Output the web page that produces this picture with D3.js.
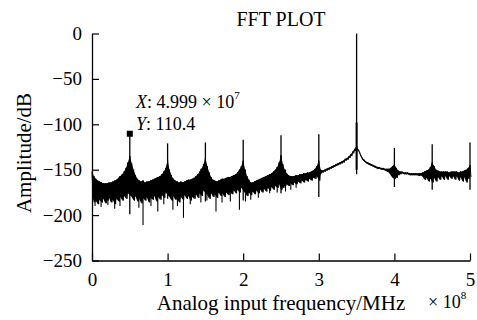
<!DOCTYPE html>
<html>
<head>
<meta charset="utf-8">
<script src="https://cdn.jsdelivr.net/npm/d3@7"></script>
<style>
  body { margin: 0; background: #fff; }
  svg text { font-family: "Liberation Serif", "Times New Roman", serif; fill: #000; }
</style>
</head>
<body>
<div id="chart"></div>
<script>
// frequency grid (x 10^8 Hz), step 0.025
const step = 0.025;

// upper envelope of the spectrum trace (dB)
const upperDb = [
  -152, -157, -160, -162, -163, -164, -165, -165, -165, -164, -164, -163, -162, -161, -159, -157, -155, -152, -148, -142,
  -135, -143, -150, -156, -160, -162, -163, -162, -164, -163, -163, -162, -161, -160, -159, -158, -157, -155, -152, -148,
  -140, -150, -156, -160, -162, -163, -164, -163, -164, -163, -162, -161, -161, -160, -159, -157, -155, -152, -149, -144,
  -137, -146, -153, -158, -161, -162, -163, -162, -161, -160, -160, -159, -158, -158, -157, -156, -155, -153, -150, -146,
  -140, -150, -157, -161, -164, -164, -163, -162, -161, -160, -159, -158, -157, -156, -155, -154, -152, -150, -147, -142,
  -134, -144, -150, -154, -156, -157, -157, -157, -156, -156, -155, -155, -154, -154, -153, -153, -152, -151, -149, -146,
  -140, -150, -151, -150, -149, -148, -147, -146, -145, -144, -143, -142, -141, -140, -138, -137, -135, -133, -130, -127,
  -124, -128, -133, -137, -139, -141, -142, -143, -144, -145, -146, -147, -147, -148, -148, -149, -149, -149, -148, -146,
  -144, -148, -151, -152, -152, -153, -153, -153, -154, -154, -154, -154, -154, -154, -154, -153, -152, -151, -150, -147,
  -142, -146, -150, -151, -152, -152, -152, -152, -152, -153, -152, -152, -152, -152, -153, -152, -152, -151, -150, -148,
  -145
];

// lower envelope of the trace (dB)
const lowerDb = [
  -178, -186, -184, -188, -183, -186, -182, -187, -184, -181, -186, -183, -188, -182, -185, -180, -184, -179, -182, -176,
  -178, -180, -184, -179, -185, -182, -187, -181, -184, -180, -186, -181, -183, -179, -185, -180, -183, -178, -181, -175,
  -178, -180, -184, -179, -183, -181, -186, -180, -183, -178, -182, -179, -184, -180, -182, -177, -181, -176, -179, -173,
  -176, -178, -182, -176, -180, -177, -181, -175, -179, -176, -180, -175, -178, -174, -177, -173, -176, -172, -175, -170,
  -173, -176, -179, -175, -178, -174, -177, -173, -176, -172, -175, -171, -174, -170, -173, -169, -172, -168, -170, -166,
  -172, -170, -168, -166, -168, -165, -167, -164, -166, -163, -165, -162, -164, -161, -163, -160, -162, -159, -160, -157,
  -162, -154, -153, -152, -151, -150, -149, -148, -147, -146, -145, -144, -143, -142, -140, -139, -137, -135, -132, -129,
  -128, -130, -135, -139, -141, -143, -144, -145, -146, -147, -148, -149, -149, -150, -150, -151, -152, -153, -156, -159,
  -160, -159, -156, -155, -154, -155, -155, -155, -156, -156, -156, -156, -156, -157, -156, -158, -161, -159, -163, -160,
  -164, -159, -163, -158, -161, -157, -161, -157, -161, -157, -160, -157, -161, -157, -162, -158, -163, -158, -164, -160,
  -158
];

// harmonic spurs: frequency, top and bottom of the spike (dB)
const spurFreq   = [0.5, 1.0, 1.5, 2.0, 2.5, 3.0, 3.5, 4.0, 4.5, 5.0];
const spurTop    = [-110.4, -121, -120, -117, -112, -111, 0, -126, -122, -120];
const spurBottom = [-199, -182, -185, -184, -176, -180, -155, -169, -172, -172];

// deep noise dips below the band
const dipFreq = [0.04, 0.12, 0.21, 0.3, 0.37, 0.62, 0.675, 0.78, 0.87, 0.95, 1.07, 1.13, 1.21, 1.3, 1.44,
  1.52, 1.64, 1.72, 1.83, 1.95, 2.03, 2.1, 2.2, 2.35, 2.45, 2.56, 2.63, 2.7];
const dipDb = [-190, -191, -189, -193, -190, -192, -211, -190, -196, -188, -194, -190, -203, -188, -186,
  -184, -196, -186, -185, -194, -185, -183, -181, -176, -175, -174, -172, -170];

const xTicks = [0, 1, 2, 3, 4, 5];
const yTicks = [0, -50, -100, -150, -200, -250];

// marker (data cursor)
const markerFreq = 0.5, markerDb = -110.4;

const width = 477, height = 320;

const svg = d3.select("#chart").append("svg")
  .attr("width", width)
  .attr("height", height);

const x = d3.scaleLinear().domain([0, 5]).range([92, 470]);
const y = d3.scaleLinear().domain([-250, 0]).range([260.5, 33.5]);

// build the zigzag trace
const trace = [];
upperDb.forEach((u, i) => {
  trace.push([i * step, u]);
  trace.push([i * step + step / 2, lowerDb[i]]);
});

const band = d3.area()
  .x((d, i) => x(i * step))
  .y0((d, i) => y(lowerDb[i]))
  .y1(d => y(d));

svg.append("path")
  .datum(upperDb)
  .attr("d", band)
  .attr("fill", "#000");

const line = d3.line().x(d => x(d[0])).y(d => y(d[1]));

svg.append("path")
  .datum(trace)
  .attr("d", line)
  .attr("fill", "none")
  .attr("stroke", "#000")
  .attr("stroke-width", 1);

// dips
dipFreq.forEach((f, i) => {
  const k = Math.round(f / step);
  svg.append("path")
    .datum([[f, upperDb[k]], [f, dipDb[i]]])
    .attr("d", line)
    .attr("stroke", "#000")
    .attr("stroke-width", 1.1);
});

// spurs
spurFreq.forEach((f, i) => {
  svg.append("path")
    .datum([[f, spurBottom[i]], [f, spurTop[i]]])
    .attr("d", line)
    .attr("stroke", "#000")
    .attr("stroke-width", 1.3);
});
// thicker lower part of the fundamental
svg.append("path")
  .datum([[3.5, -150], [3.5, -98]])
  .attr("d", line)
  .attr("stroke", "#000")
  .attr("stroke-width", 2);

// axes
const xAxis = d3.axisBottom(x).tickValues(xTicks).tickFormat(d3.format("d"))
  .tickSizeInner(-7).tickSizeOuter(0).tickPadding(12);
const gx = svg.append("g")
  .attr("transform", "translate(0," + y(-250) + ")")
  .call(xAxis);

const yAxis = d3.axisLeft(y).tickValues(yTicks).tickFormat(d3.format("d"))
  .tickSizeInner(-7).tickSizeOuter(0).tickPadding(10);
const gy = svg.append("g")
  .attr("transform", "translate(" + x(0) + ",0)")
  .call(yAxis);

[gx, gy].forEach(g => {
  g.select(".domain").attr("stroke", "#000").attr("stroke-width", 1.3);
  g.selectAll(".tick line").attr("stroke", "#000").attr("stroke-width", 1.2);
  g.selectAll(".tick text")
    .attr("font-family", "Liberation Serif, serif")
    .attr("font-size", 19)
    .attr("fill", "#000");
});

// title
svg.append("text")
  .attr("x", 281)
  .attr("y", 26)
  .attr("text-anchor", "middle")
  .attr("font-size", 20)
  .text("FFT PLOT");

// axis labels
svg.append("text")
  .attr("x", 281)
  .attr("y", 310)
  .attr("text-anchor", "middle")
  .attr("font-size", 21)
  .text("Analog input frequency/MHz");

const exp = svg.append("text")
  .attr("x", 428)
  .attr("y", 308)
  .attr("font-size", 18);
exp.append("tspan").text("\u00d7 10");
exp.append("tspan").attr("font-size", 11).attr("dy", -9).text("8");

svg.append("text")
  .attr("transform", "translate(31," + 153 + ") rotate(-90)")
  .attr("text-anchor", "middle")
  .attr("font-size", 21)
  .text("Amplitude/dB");

// data cursor
svg.append("rect")
  .attr("x", x(markerFreq) - 3)
  .attr("y", y(markerDb) - 3)
  .attr("width", 6)
  .attr("height", 6)
  .attr("fill", "#000");

const tx = svg.append("text").attr("x", 136).attr("y", 108).attr("font-size", 18);
tx.append("tspan").attr("font-style", "italic").text("X");
tx.append("tspan").text(": 4.999 \u00d7 10");
tx.append("tspan").attr("font-size", 11).attr("dy", -9).text("7");

const ty = svg.append("text").attr("x", 136).attr("y", 130).attr("font-size", 18);
ty.append("tspan").attr("font-style", "italic").text("Y");
ty.append("tspan").text(": 110.4");
</script>
</body>
</html>
